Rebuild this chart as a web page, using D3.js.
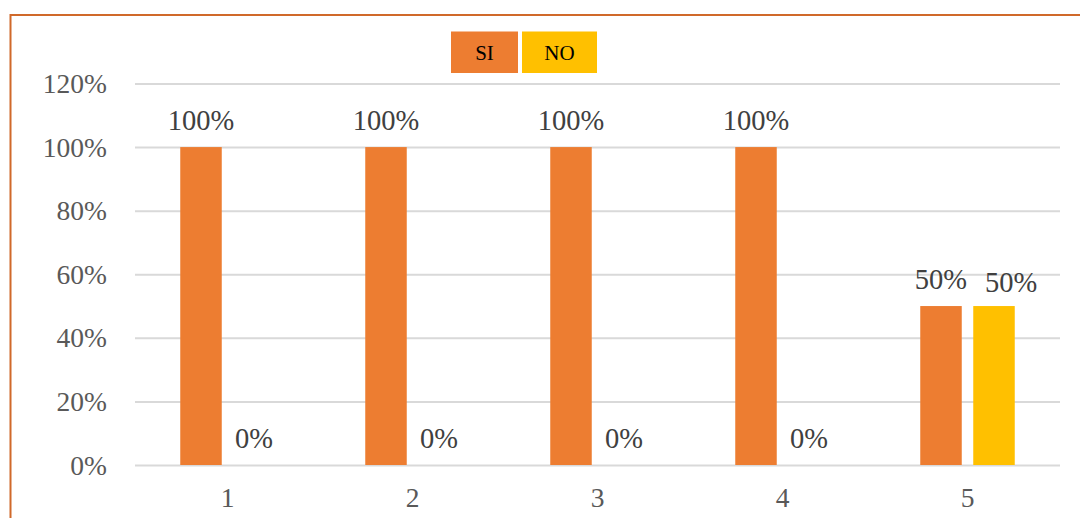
<!DOCTYPE html>
<html><head><meta charset="utf-8">
<script src="https://cdn.jsdelivr.net/npm/d3@7"></script>
<style>html,body{margin:0;padding:0;background:#fff;}svg{display:block;}
text{font-family:'Liberation Serif','Times New Roman',serif;}</style>
</head><body>
<svg id="c" width="1080" height="518"></svg>
<script>
const categories = ["1","2","3","4","5"];
const seriesNames = ["SI","NO"];
const siValues = [1.0, 1.0, 1.0, 1.0, 0.5];
const noValues = [0.0, 0.0, 0.0, 0.0, 0.5];
const yTicks = [0, 0.2, 0.4, 0.6, 0.8, 1.0, 1.2];
const colors = {SI:"#ED7D31", NO:"#FFC000"};
const FONT = "'Liberation Serif','Times New Roman',serif";

const svg = d3.select("#c");
const plot = {left:135, right:1060, top:83.5, bottom:465};

svg.append("rect").attr("x",10.5).attr("y",15).attr("width",1100).attr("height",600)
  .attr("fill","none").attr("stroke","#D0692A").attr("stroke-width",2);

const x = d3.scaleBand().domain(categories).range([plot.left, plot.right]).padding(0);
const xi = d3.scaleBand().domain(seriesNames).range([-47.25, 47.25]).paddingInner(0.217).paddingOuter(0);
const y = d3.scaleLinear().domain([0, 1.2]).range([plot.bottom, plot.top]);

const yAxis = d3.axisLeft(y).tickValues(yTicks).tickSize(-(plot.right-plot.left)).tickPadding(28)
  .tickFormat(d3.format(".0%"));
const gy = svg.append("g").attr("transform",`translate(${plot.left},0)`).call(yAxis);
gy.attr("font-family",null);
gy.select(".domain").remove();
gy.selectAll(".tick line").attr("stroke","#D9D9D9").attr("stroke-width",2);
gy.selectAll(".tick text").attr("fill","#595959").style("font-family",FONT)
  .attr("font-size",27.5).attr("dy","0.33em");

const xAxis = d3.axisBottom(x).tickSize(0).tickPadding(22);
const gx = svg.append("g").attr("transform",`translate(0,${plot.bottom})`).call(xAxis);
gx.attr("font-family",null);
gx.select(".domain").remove();
gx.selectAll(".tick text").attr("fill","#595959").style("font-family",FONT)
  .attr("font-size",27.5).attr("dy","0.71em");

const data = [];
categories.forEach((c,i)=>{
  data.push({cat:c, s:"SI", v:siValues[i]});
  data.push({cat:c, s:"NO", v:noValues[i]});
});
const cx = d => x(d.cat) + x.bandwidth()/2 + xi(d.s);

svg.append("g").selectAll("rect").data(data).join("rect")
  .attr("x", cx).attr("width", xi.bandwidth())
  .attr("y", d=>y(d.v)).attr("height", d=>y(0)-y(d.v))
  .attr("fill", d=>colors[d.s]);

const labels = svg.append("g").selectAll("text").data(data).join("text")
  .attr("x", d=>cx(d)+xi.bandwidth()/2)
  .attr("y", d=>y(d.v)-17)
  .attr("text-anchor","middle")
  .attr("fill","#404040")
  .style("font-family",FONT)
  .attr("font-size",28.5)
  .text(d=>d3.format(".0%")(d.v));

// avoid overlapping labels within a category (shift the second one right)
const nodes = labels.nodes();
for (let i = 0; i + 1 < nodes.length; i += 2) {
  const a = nodes[i].getBBox(), b = nodes[i+1].getBBox();
  const overlapX = a.x + a.width + 18 - b.x;
  const overlapY = Math.min(a.y + a.height, b.y + b.height) - Math.max(a.y, b.y);
  if (overlapX > 0 && overlapY > 0) {
    d3.select(nodes[i+1]).attr("dx", overlapX).attr("dy", 3);
  }
}

const legend = [{s:"SI", x:451, w:67}, {s:"NO", x:522, w:75}];
const lg = svg.append("g");
lg.selectAll("rect").data(legend).join("rect")
  .attr("x",d=>d.x).attr("y",31.5).attr("width",d=>d.w).attr("height",41.5)
  .attr("fill",d=>colors[d.s]);
lg.selectAll("text").data(legend).join("text")
  .attr("x",d=>d.x+d.w/2).attr("y",59.5).attr("text-anchor","middle")
  .style("font-family",FONT).attr("font-size",21)
  .attr("fill","#000").text(d=>d.s);
</script>
</body></html>
